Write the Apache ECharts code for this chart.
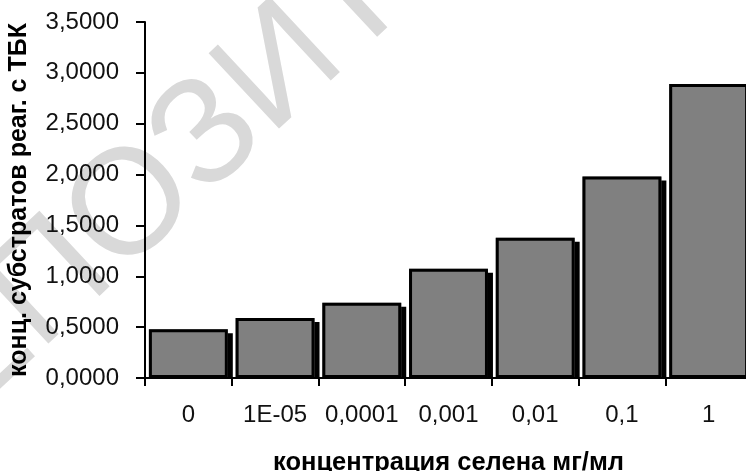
<!DOCTYPE html>
<html>
<head>
<meta charset="utf-8">
<script src="https://cdn.jsdelivr.net/npm/echarts@6/dist/echarts.min.js"></script>
<style>
html,body{margin:0;padding:0;background:#fff;}
#chart{width:746px;height:471px;}
</style>
</head>
<body>
<div id="chart"></div>
<script>
var categories = ['0', '1E-05', '0,0001', '0,001', '0,01', '0,1', '1'];
var values = [0.48, 0.59, 0.74, 1.075, 1.38, 1.98, 2.89];
var yTickLabels = ['0,0000', '0,5000', '1,0000', '1,5000', '2,0000', '2,5000', '3,0000', '3,5000'];
var xAxisTitle = 'концентрация селена мг/мл';
var yAxisTitle = 'конц. субстратов реаг. с ТБК';
var watermarkText = 'РЕПОЗИТОРИЙ';

var chart = echarts.init(document.getElementById('chart'), null, {renderer: 'canvas'});
var labelFont = '"Liberation Sans", Arial, sans-serif';
chart.setOption({
  backgroundColor: '#ffffff',
  animation: false,
  graphic: [{
    type: 'text',
    z: -10,
    x: -135,
    y: 458,
    rotation: 43 * Math.PI / 180,
    style: {
      text: watermarkText,
      x: 0, y: 0,
      fill: '#d9d9d9',
      font: '150px ' + labelFont,
      align: 'left',
      verticalAlign: 'middle'
    }
  }, {
    // hides the part of the bar shadows that would fall below the axis line
    type: 'rect',
    z: 3,
    shape: {x: 147, y: 379, width: 620, height: 8},
    style: {fill: '#ffffff'}
  }],
  grid: {left: 145, top: 22, right: -6, bottom: 93, containLabel: false, outerBoundsMode: 'none'},
  xAxis: {
    type: 'category',
    z: 5,
    data: categories,
    boundaryGap: true,
    axisLine: {lineStyle: {color: '#000', width: 2}},
    axisTick: {show: true, length: 8, lineStyle: {color: '#000', width: 2}},
    axisLabel: {color: '#111', fontFamily: labelFont, fontSize: 24, margin: 25, interval: 0, hideOverlap: false},
    name: xAxisTitle,
    nameLocation: 'middle',
    nameGap: 72,
    nameTextStyle: {color: '#000', fontFamily: labelFont, fontSize: 25.5, fontWeight: 'bold'}
  },
  yAxis: {
    type: 'value',
    z: 5,
    min: 0, max: 3.5, interval: 0.5,
    axisLine: {show: true, lineStyle: {color: '#000', width: 2}},
    axisTick: {show: true, length: 9, lineStyle: {color: '#000', width: 2}},
    splitLine: {show: false},
    axisLabel: {
      color: '#111', fontFamily: labelFont, fontSize: 24, margin: 26,
      formatter: function (v) { return yTickLabels[Math.round(v / 0.5)]; }
    },
    name: yAxisTitle,
    nameLocation: 'middle',
    nameGap: 113,
    nameTextStyle: {color: '#000', fontFamily: labelFont, fontSize: 25, fontWeight: 'bold'}
  },
  series: [{
    type: 'bar',
    data: values,
    barCategoryGap: '9%',
    itemStyle: {
      color: '#808080',
      borderWidth: 0,
      shadowColor: '#000',
      shadowBlur: 0,
      shadowOffsetX: 5,
      shadowOffsetY: 4
    }
  }, {
    type: 'bar',
    data: values,
    barCategoryGap: '9%',
    barGap: '-100%',
    silent: true,
    itemStyle: {
      color: 'rgba(0,0,0,0)',
      borderColor: '#000',
      borderWidth: 3
    }
  }]
});
</script>
</body>
</html>
